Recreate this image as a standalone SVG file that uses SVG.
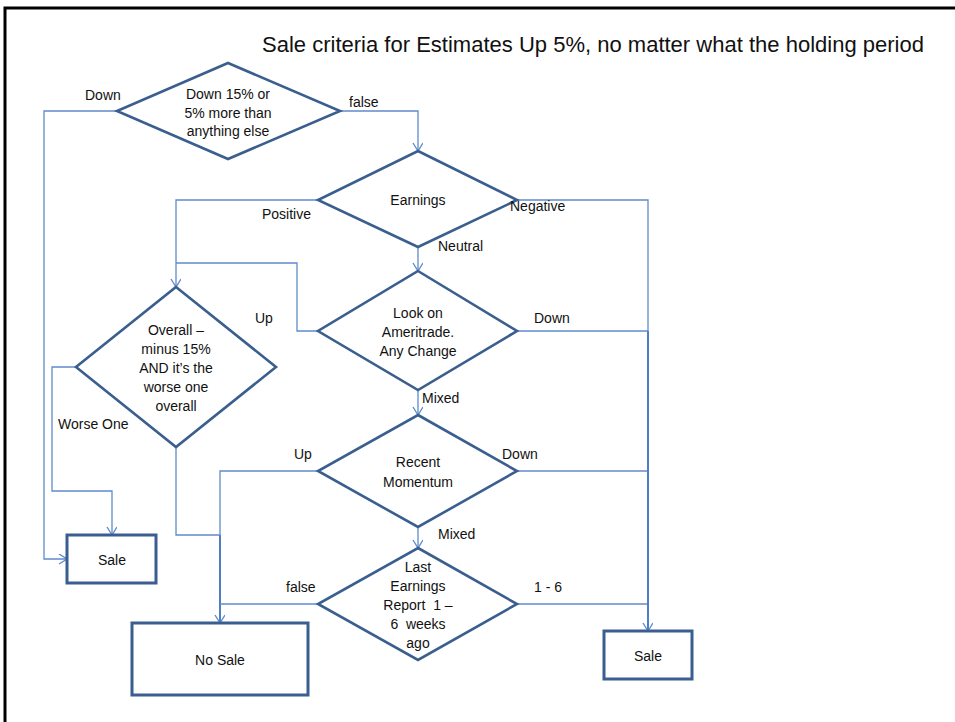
<svg xmlns="http://www.w3.org/2000/svg" width="955" height="722" viewBox="0 0 955 722">
<style>
.node{fill:#fff;stroke:#3A5F8F;stroke-width:2.6}
.box{fill:#fff;stroke:#3A5F8F;stroke-width:3}
.t{font-family:"Liberation Sans",Arial,sans-serif;font-size:14px;fill:#111;text-anchor:middle}
.lbl{font-family:"Liberation Sans",Arial,sans-serif;font-size:14px;fill:#111}
.c{fill:none;stroke:#5F8BCB;stroke-width:1.3}
.thick{stroke:#4F7FC2;stroke-width:2}
</style>
<defs>
<marker id="arr" markerUnits="userSpaceOnUse" markerWidth="12" markerHeight="12" refX="9" refY="5" orient="auto">
<path d="M1,0 L9,5 L1,10" fill="none" stroke="#5F8BCB" stroke-width="1.4"/>
</marker>
</defs>
<rect width="955" height="722" fill="#fff"/>
<path d="M5,722 V8 H955" fill="none" stroke="#000" stroke-width="3"/>
<text x="262" y="52" font-family="'Liberation Sans',Arial,sans-serif" font-size="22" fill="#111" textLength="662">Sale criteria for Estimates Up 5%, no matter what the holding period</text>

<g id="connectors">
<path class="c" d="M117,111 H44 V559 H67" marker-end="url(#arr)"/>
<path class="c" d="M340,111 H418 V151" marker-end="url(#arr)"/>
<path class="c" d="M318,200 H176 V287" marker-end="url(#arr)"/>
<path class="c" d="M517,200 H648 V331"/>
<path class="c" d="M418,247 V271" marker-end="url(#arr)"/>
<path class="c" d="M318,331 H297 V263 H176"/>
<path class="c" d="M517,331 H648"/>
<path class="c" d="M418,390 V415" marker-end="url(#arr)"/>
<path class="c" d="M318,471 H220 V535"/>
<path class="c thick" d="M220,535 V623" marker-end="url(#arr)"/>
<path class="c" d="M517,471 H648"/>
<path class="c" d="M418,527 V548" marker-end="url(#arr)"/>
<path class="c" d="M318,604 H220"/>
<path class="c" d="M517,604 H648"/>
<path class="c thick" d="M648,331 V631" marker-end="url(#arr)"/>
<path class="c" d="M76,367 H52 V491 H112 V535" marker-end="url(#arr)"/>
<path class="c" d="M176,447 V535 H220"/>
</g>

<g id="d-down15">
<polygon class="node" points="228,63 340,111 228,159 117,111"/>
<text class="t" x="228" y="99">Down 15% or</text>
<text class="t" x="228" y="117.5">5% more than</text>
<text class="t" x="228" y="136">anything else</text>
</g>
<g id="d-earnings">
<polygon class="node" points="418,151 517,200 418,247 318,200"/>
<text class="t" x="418" y="205">Earnings</text>
</g>
<g id="d-ameritrade">
<polygon class="node" points="418,271 517,331 418,390 318,331"/>
<text class="t" x="418" y="318">Look on</text>
<text class="t" x="418" y="337">Ameritrade.</text>
<text class="t" x="418" y="356">Any Change</text>
</g>
<g id="d-overall">
<polygon class="node" points="176,287 276,367 176,447 76,367"/>
<text class="t" x="176" y="335">Overall –</text>
<text class="t" x="176" y="354">minus 15%</text>
<text class="t" x="176" y="373">AND it’s the</text>
<text class="t" x="176" y="392">worse one</text>
<text class="t" x="176" y="411">overall</text>
</g>
<g id="d-momentum">
<polygon class="node" points="418,415 517,471 418,527 318,471"/>
<text class="t" x="418" y="467">Recent</text>
<text class="t" x="418" y="487">Momentum</text>
</g>
<g id="d-lastearnings">
<polygon class="node" points="418,548 517,604 418,660 318,604"/>
<text class="t" x="418" y="572">Last</text>
<text class="t" x="418" y="591">Earnings</text>
<text class="t" x="418" y="610" xml:space="preserve">Report  1 –</text>
<text class="t" x="418" y="629" xml:space="preserve">6  weeks</text>
<text class="t" x="418" y="648">ago</text>
</g>
<g id="b-sale-left">
<rect class="box" x="67" y="535" width="89" height="48"/>
<text class="t" x="112" y="565">Sale</text>
</g>
<g id="b-nosale">
<rect class="box" x="132" y="623" width="176" height="72"/>
<text class="t" x="220" y="665">No Sale</text>
</g>
<g id="b-sale-right">
<rect class="box" x="604" y="631" width="88" height="48"/>
<text class="t" x="648" y="661">Sale</text>
</g>

<g id="labels">
<text class="lbl" x="85" y="99.5">Down</text>
<text class="lbl" x="349" y="107">false</text>
<text class="lbl" x="262" y="219">Positive</text>
<text class="lbl" x="510" y="211">Negative</text>
<text class="lbl" x="438" y="251">Neutral</text>
<text class="lbl" x="255" y="323">Up</text>
<text class="lbl" x="534" y="323">Down</text>
<text class="lbl" x="422" y="403">Mixed</text>
<text class="lbl" x="58" y="429">Worse One</text>
<text class="lbl" x="294" y="459">Up</text>
<text class="lbl" x="502" y="459">Down</text>
<text class="lbl" x="438" y="539">Mixed</text>
<text class="lbl" x="286" y="592">false</text>
<text class="lbl" x="534" y="592">1 - 6</text>
</g>
</svg>
